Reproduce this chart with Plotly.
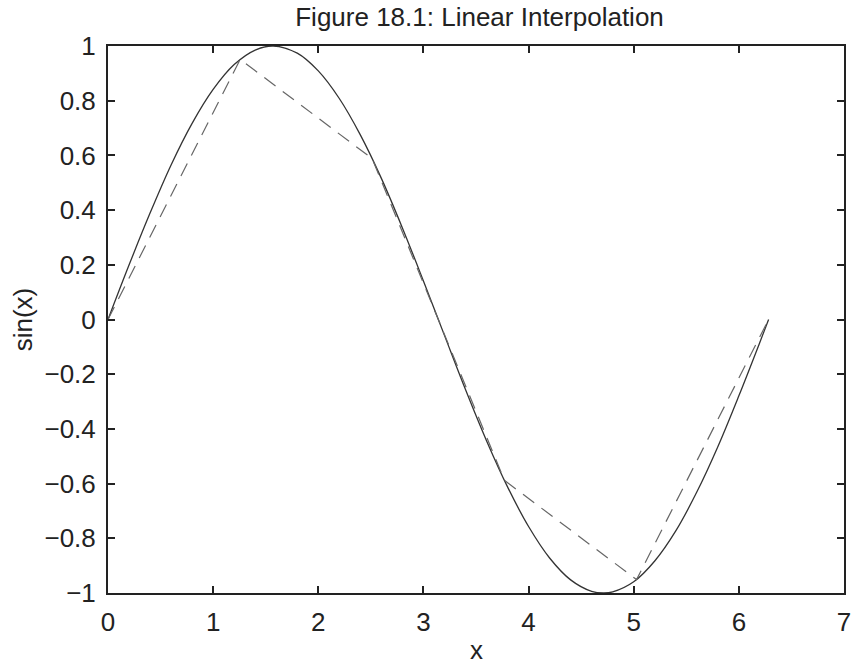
import plotly.graph_objects as go

curve_x = [0.0, 0.2, 0.4, 0.6, 0.8, 1.0, 1.2, 1.4, 1.571, 1.8, 2.0, 2.2, 2.4, 2.6,
           2.8, 3.0, 3.2, 3.4, 3.6, 3.8, 4.0, 4.2, 4.4, 4.6, 4.712, 4.8, 5.0, 5.2,
           5.4, 5.6, 5.8, 6.0, 6.2, 6.283]
curve_y = [0.0, 0.199, 0.389, 0.565, 0.717, 0.841, 0.932, 0.985, 1.0, 0.974, 0.909,
           0.808, 0.675, 0.516, 0.335, 0.141, -0.058, -0.256, -0.443, -0.612, -0.757,
           -0.872, -0.952, -0.994, -1.0, -0.996, -0.959, -0.883, -0.773, -0.631,
           -0.465, -0.279, -0.083, 0.0]

# Dashed linear interpolation nodes
node_x = [0.0, 1.257, 2.513, 3.770, 5.027, 6.283]
node_y = [0.0, 0.951, 0.588, -0.588, -0.951, 0.0]

x_ticks = [0, 1, 2, 3, 4, 5, 6, 7]
y_ticks = [-1, -0.8, -0.6, -0.4, -0.2, 0, 0.2, 0.4, 0.6, 0.8, 1]

title_text = "Figure 18.1: Linear Interpolation"
x_label = "x"
y_label = "sin(x)"

FONT = "Liberation Sans, Arial, Helvetica, sans-serif"
INK = "#222222"
FS = 26

fig = go.Figure()
fig.add_trace(go.Scatter(x=curve_x, y=curve_y, mode="lines",
                         line=dict(color="#333333", width=1.3, shape="spline"),
                         showlegend=False, hoverinfo="skip"))
fig.add_trace(go.Scatter(x=node_x, y=node_y, mode="lines",
                         line=dict(color="#666666", width=1.2, dash="14px,9px"),
                         showlegend=False, hoverinfo="skip"))

axis_common = dict(showline=True, linecolor=INK, linewidth=2, mirror="ticks",
                   ticks="inside", ticklen=7, tickwidth=1.5, tickcolor=INK,
                   showgrid=False, zeroline=False,
                   tickfont=dict(family=FONT, size=FS, color=INK))

fig.update_xaxes(range=[0, 7], tickvals=x_ticks, ticklabelstandoff=5, **axis_common)
fig.update_yaxes(range=[-1, 1], tickvals=y_ticks, ticklabelstandoff=5, **axis_common)

fig.update_layout(
    width=858, height=660,
    margin=dict(l=108, r=7, t=46, b=67),
    paper_bgcolor="white", plot_bgcolor="white",
    font=dict(family=FONT, color=INK),
    title=dict(text=title_text, x=0.5589, xanchor="center", xref="container",
               y=1 - 17 / 660, yanchor="middle", yref="container",
               font=dict(family=FONT, size=FS, color=INK)),
    annotations=[
        dict(text=x_label, xref="paper", yref="paper", x=0.5, y=-57 / 547,
             xanchor="center", yanchor="middle", showarrow=False,
             font=dict(family=FONT, size=FS, color=INK)),
        dict(text=y_label, xref="paper", yref="paper", x=-(108 - 22) / 743, y=0.5,
             xanchor="center", yanchor="middle", showarrow=False, textangle=-90,
             font=dict(family=FONT, size=FS, color=INK)),
    ],
)

fig.write_html("out.html")
